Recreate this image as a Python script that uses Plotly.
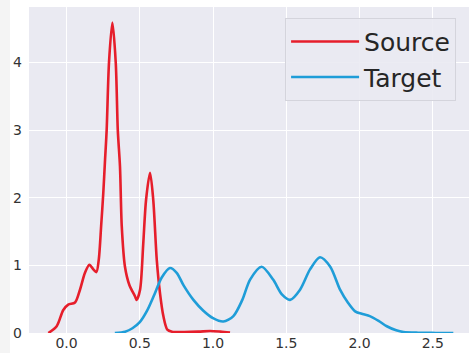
import plotly.graph_objects as go

# Source KDE
source_x = [-0.124, -0.067, -0.022, 0.012, 0.058, 0.092, 0.126, 0.156, 0.183, 0.204,
            0.22, 0.237, 0.251, 0.263, 0.274, 0.29, 0.313, 0.336, 0.35, 0.365,
            0.377, 0.399, 0.429, 0.468, 0.479, 0.502, 0.524, 0.543, 0.57, 0.592,
            0.616, 0.638, 0.661, 0.688, 0.72, 0.8, 0.9, 0.98, 1.05, 1.116]
source_y = [0.0, 0.10, 0.34, 0.42, 0.45, 0.64, 0.89, 1.01, 0.94, 0.90,
            1.08, 1.6, 2.07, 2.56, 3.0, 4.0, 4.59, 4.0, 3.0, 2.46,
            1.58, 0.98, 0.71, 0.54, 0.49, 0.64, 1.33, 1.97, 2.37, 1.97,
            1.08, 0.59, 0.25, 0.05, 0.02, 0.015, 0.02, 0.03, 0.02, 0.005]

# Target KDE
target_x = [0.33, 0.40, 0.45, 0.50, 0.55, 0.60, 0.65, 0.706, 0.752, 0.80,
            0.866, 0.934, 1.0, 1.07, 1.139, 1.20, 1.253, 1.332, 1.41, 1.47,
            1.526, 1.594, 1.662, 1.73, 1.80, 1.867, 1.92, 1.97, 2.02, 2.07,
            2.13, 2.186, 2.25, 2.30, 2.40, 2.52, 2.64]
target_y = [0.0, 0.02, 0.07, 0.16, 0.33, 0.57, 0.82, 0.96, 0.89, 0.70,
            0.49, 0.33, 0.22, 0.17, 0.25, 0.49, 0.79, 0.98, 0.79, 0.57,
            0.49, 0.64, 0.94, 1.12, 0.98, 0.64, 0.45, 0.32, 0.28, 0.25,
            0.18, 0.10, 0.04, 0.015, 0.004, 0.001, 0.0]

x_ticks = [0.0, 0.5, 1.0, 1.5, 2.0, 2.5]
x_tick_labels = ["0.0", "0.5", "1.0", "1.5", "2.0", "2.5"]
y_ticks = [0, 1, 2, 3, 4]
y_tick_labels = ["0", "1", "2", "3", "4"]

fig = go.Figure()
fig.add_trace(go.Scatter(x=source_x, y=source_y, mode="lines", name="Source",
                         line=dict(color="#e61e2b", width=2.6, shape="spline", smoothing=0.8)))
fig.add_trace(go.Scatter(x=target_x, y=target_y, mode="lines", name="Target",
                         line=dict(color="#1f9dd8", width=2.6, shape="spline", smoothing=0.8)))

fig.add_shape(type="rect", xref="paper", yref="paper", x0=-0.066, x1=-0.043,
              y0=-0.07, y1=1.03, fillcolor="#f4f4f4", line=dict(width=0), layer="below")

fig.update_layout(
    width=469, height=353,
    margin=dict(l=29, r=0, t=7, b=20),
    paper_bgcolor="white", plot_bgcolor="#EAEAF2",
    font=dict(family="DejaVu Sans", color="#262626"),
    xaxis=dict(range=[-0.256, 2.747], tickvals=x_ticks, ticktext=x_tick_labels,
               showgrid=True, gridcolor="white", gridwidth=1, zeroline=False,
               showline=False, ticks="", tickfont=dict(size=14, color="#333333")),
    yaxis=dict(range=[0, 4.82], tickvals=y_ticks, ticktext=y_tick_labels,
               showgrid=True, gridcolor="white", gridwidth=1, zeroline=False,
               showline=False, ticks="", ticklabelstandoff=6,
               tickfont=dict(size=14, color="#333333")),
    legend=dict(x=0.582, y=0.967, xanchor="left", yanchor="top",
                bgcolor="rgba(234,234,242,0.9)", bordercolor="#d4d4dc", borderwidth=1,
                font=dict(size=25, color="#262626"), itemwidth=68,
                entrywidth=172, entrywidthmode="pixels",
                tracegroupgap=0),
    showlegend=True,
)

fig.write_html("out.html", config={"displayModeBar": False},
               post_script="document.body.style.margin='0';document.body.style.overflow='hidden';")
